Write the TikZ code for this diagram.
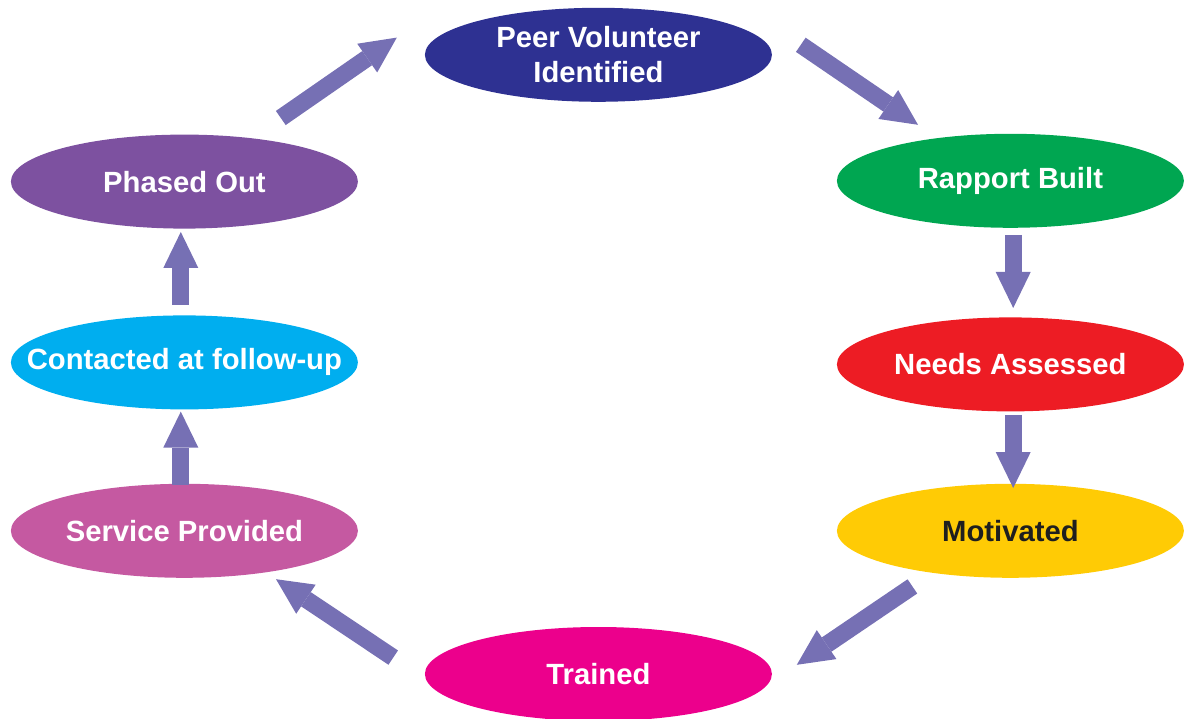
\documentclass[tikz,border=0pt]{standalone}
\usepackage{fontspec}
\setmainfont{Liberation Sans}
\usetikzlibrary{shapes.geometric,arrows.meta}

\definecolor{peerblue}{RGB}{46,49,146}
\definecolor{rapportgreen}{RGB}{0,166,81}
\definecolor{needsred}{RGB}{237,28,36}
\definecolor{motivyellow}{RGB}{255,203,5}
\definecolor{trainedpink}{RGB}{236,0,140}
\definecolor{servicepink}{RGB}{197,89,161}
\definecolor{contactcyan}{RGB}{0,174,239}
\definecolor{phasedpurple}{RGB}{125,81,160}
\definecolor{arrowpurple}{RGB}{118,112,180}

\tikzset{
  stage/.style={ellipse, fill=#1, minimum width=8.675cm, minimum height=2.35cm, inner sep=0pt},
  stagetext/.style={text=white, font=\fontsize{20.8}{24.9}\selectfont\bfseries, align=center},
  flow/.style={arrowpurple, line width=0.43cm, -{Triangle[width=0.875cm,length=0.9cm,line width=0pt]}}
}

\begin{document}
\begin{tikzpicture}
\useasboundingbox (0,0) rectangle (29.6,17.95);
% the eight stages
\node[stage=peerblue, label={[stagetext]center:Peer Volunteer\\Identified}] (peer) at (14.96,16.58) {};
\node[stage=rapportgreen, label={[stagetext]center:Rapport Built}] (rapport) at (25.26,13.43) {};
\node[stage=needsred, label={[stagetext]center:Needs Assessed}] (needs) at (25.26,8.84) {};
\node[stage=motivyellow, label={[stagetext,text=black!88]center:Motivated}] (motivated) at (25.26,4.68) {};
\node[stage=trainedpink, label={[stagetext]center:Trained}] (trained) at (14.96,1.1) {};
\node[stage=servicepink, label={[stagetext]center:Service Provided}] (service) at (4.61,4.68) {};
\node[stage=contactcyan, label={[stagetext]center:Contacted at follow-up}] (contacted) at (4.61,8.89) {};
\node[stage=phasedpurple, label={[stagetext]center:Phased Out}] (phased) at (4.61,13.41) {};
% block arrows round the cycle
\draw[flow] ([shift={(2.41,1.59)}]phased.center) -- ([shift={(-5.04,0.43)}]peer.center);
\draw[flow] ([shift={(5.06,0.25)}]peer.center) -- ([shift={(-2.31,1.40)}]rapport.center);
\draw[flow] ([shift={(0.07,-1.35)}]rapport.center) -- ([shift={(0.07,1.41)}]needs.center);
\draw[flow] ([shift={(0.07,-1.26)}]needs.center) -- ([shift={(0.07,1.07)}]motivated.center);
\draw[flow] ([shift={(-2.45,-1.39)}]motivated.center) -- ([shift={(4.96,0.23)}]trained.center);
\draw[flow] ([shift={(-5.13,0.41)}]trained.center) -- ([shift={(2.29,-1.21)}]service.center);
\draw[flow] ([shift={(-0.09,1.15)}]service.center) -- ([shift={(-0.09,-1.23)}]contacted.center);
\draw[flow] ([shift={(-0.09,1.44)}]contacted.center) -- ([shift={(-0.09,-1.26)}]phased.center);
\end{tikzpicture}
\end{document}
